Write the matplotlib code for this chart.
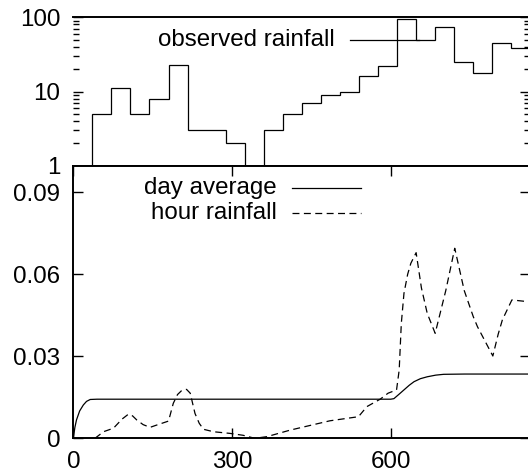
import numpy as np
import matplotlib
matplotlib.use("Agg")
import matplotlib.pyplot as plt

plt.rcParams['font.family'] = ['Liberation Sans', 'DejaVu Sans']
plt.rcParams['font.size'] = 17.4
plt.rcParams['lines.scale_dashes'] = False

# observed rainfall, one value per 36 h bin
bin_edges = np.arange(0, 865, 36)
observed = [0, 5, 11, 5, 8, 23, 3, 3, 2, 0, 3, 5, 7, 9, 10, 16, 22,
            95, 49, 75, 25, 18, 45, 38]

# day average
day_t = [0, 3, 6, 12, 19, 25, 32, 45, 600, 606, 615, 625, 635, 644, 656, 669,
         685, 700, 740, 864]
day_avg = [0, 0.004, 0.0067, 0.0100, 0.0122, 0.0135, 0.0142, 0.0143, 0.0143,
           0.0145, 0.0160, 0.0177, 0.0194, 0.0207, 0.0218, 0.0225, 0.0231,
           0.0234, 0.0235, 0.0235]

# hour rainfall
hour_t = [41, 57, 76, 92, 104, 112, 120, 132, 145, 160, 180, 189, 197, 205, 214,
          221, 230, 238, 246, 265, 296, 321, 343, 366, 410, 485, 539, 555, 580,
          595, 611, 616, 620, 625, 632, 638, 648, 658, 669, 684, 704, 721, 739,
          756, 764, 793, 803, 811, 829, 858, 864]
hour_rain = [0, 0.0024, 0.0037, 0.0070, 0.0088, 0.0082, 0.0067, 0.0050, 0.0040,
             0.0050, 0.0063, 0.0128, 0.0160, 0.0175, 0.0179, 0.0165, 0.0091,
             0.0055, 0.0033, 0.0024, 0.0018, 0.0011, 0.0, 0.0006, 0.0030,
             0.0064, 0.0079, 0.0116, 0.0143, 0.0165, 0.0177, 0.0250, 0.0420,
             0.0530, 0.0600, 0.0640, 0.0679, 0.0550, 0.0457, 0.0384, 0.0540,
             0.0695, 0.0540, 0.0445, 0.0408, 0.0301, 0.0380, 0.0433, 0.0506,
             0.0500, 0.0495]

W, H = 528, 474
fig = plt.figure(figsize=(W / 100, H / 100), dpi=100)

x0 = 73.3 / W
wid = (530.4 - 73.3) / W
ax1 = fig.add_axes([x0, 1 - 165.7 / H, wid, (165.7 - 17.3) / H])
ax2 = fig.add_axes([x0, 1 - 438.3 / H, wid, (438.3 - 165.7) / H])

# top panel
obs_plot = [v if v > 0 else 0.1 for v in observed]
ax1.stairs(obs_plot, bin_edges, baseline=None, color='black', lw=0.9)
ax1.set_yscale('log')
ax1.set_ylim(1, 100)
ax1.set_xlim(0, 864)
ax1.set_yticks([1, 10, 100])
ax1.set_yticklabels(['1', '10', '100'])
ax1.tick_params(axis='y', which='major', direction='in', length=7.5, width=1,
                left=True, right=True, pad=9.5)
ax1.tick_params(axis='y', which='minor', direction='in', length=4.5, width=1,
                left=True, right=True)
ax1.tick_params(axis='x', which='both', bottom=False, top=False, labelbottom=False)
ax1.spines['left'].set_visible(False)
for s in ['top', 'bottom', 'right']:
    ax1.spines[s].set_linewidth(1.4)
ax1.text(0.5725, 0.847, 'observed rainfall', transform=ax1.transAxes,
         ha='right', va='center')
ax1.plot([0.605, 0.756], [0.847, 0.847], transform=ax1.transAxes,
         color='black', lw=0.9)

# bottom panel
ax2.plot(day_t, day_avg, color='black', lw=0.9)
ax2.plot(hour_t, hour_rain, color='black', lw=0.9, dashes=(5, 3.2))
ax2.set_xlim(0, 864)
ax2.set_ylim(0, 0.0997)
ax2.set_xticks([0, 300, 600])
ax2.set_yticks([0, 0.03, 0.06, 0.09])
ax2.set_yticklabels(['0', '0.03', '0.06', '0.09'])
ax2.tick_params(axis='both', direction='in', length=7.5, width=1,
                left=True, right=True, top=True, bottom=True)
ax2.tick_params(axis='y', pad=9.5)
ax2.tick_params(axis='x', pad=9.5)
for s in ax2.spines.values():
    s.set_linewidth(1.4)

ax2.text(0.4456, 0.917, 'day average', transform=ax2.transAxes,
         ha='right', va='center')
ax2.plot([0.478, 0.629], [0.917, 0.917], transform=ax2.transAxes,
         color='black', lw=0.9)
ax2.text(0.4456, 0.8276, 'hour rainfall', transform=ax2.transAxes,
         ha='right', va='center')
ax2.plot([0.478, 0.629], [0.8276, 0.8276], transform=ax2.transAxes,
         color='black', lw=0.9, dashes=(5, 3.2))

fig.savefig('out.png', dpi=100)
